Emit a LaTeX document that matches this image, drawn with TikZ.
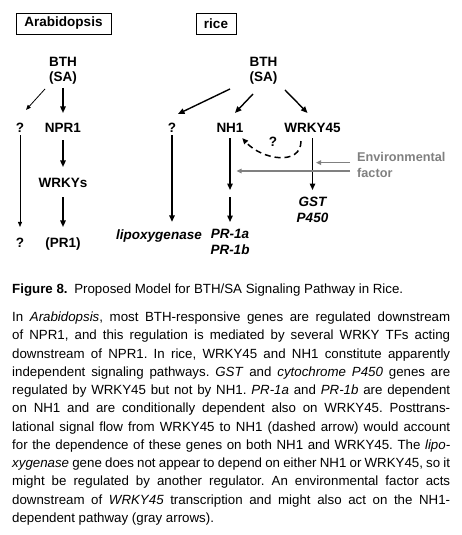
\documentclass[tikz,border=0pt]{standalone}
\usepackage{fontspec}
\setmainfont{Liberation Sans}
\usetikzlibrary{arrows.meta}
\definecolor{envgray}{RGB}{128,128,128}
\frenchspacing
\begin{document}
\begin{tikzpicture}[x=1pt,y=-1pt,
  lbl/.style={font=\fontsize{13.5}{15}\selectfont\bfseries, inner sep=0pt, text height=9.7pt, text depth=0pt},
  multi/.style={inner sep=0pt, align=center, anchor=north},
  boxn/.style={draw, line width=0.8pt, font=\fontsize{13.5}{15}\selectfont\bfseries, inner sep=0pt, minimum height=21pt},
  arr/.style={line width=1.4pt, -{Triangle[length=6.5pt,width=5.5pt]}},
  thinarr/.style={line width=0.8pt, -{Triangle[length=5pt,width=4pt]}},
  garr/.style={draw=envgray, line width=1.2pt, -{Triangle[length=5pt,width=4.5pt]}},
  dasharr/.style={line width=1.5pt, dash pattern=on 6pt off 4pt, -{Triangle[length=6pt,width=5pt]}},
  capl/.style={font=\fontsize{13.3}{16}\selectfont, inner sep=0pt, anchor=base west}]
\useasboundingbox (0,0) rectangle (461,535);

% ---- boxes
\node[boxn, minimum width=95pt] (arabox) at (63.5,23.5) {Arabidopsis};
\node[boxn, minimum width=40pt] (ricebox) at (216,23.5) {rice};

% ---- Arabidopsis
\node[multi, font=\fontsize{13.5}{15}\selectfont\bfseries] (aBTH) at (63,57) {BTH\\(SA)};
\node[lbl] (aq1) at (20,128) {?};
\node[lbl] (npr1) at (63,128) {NPR1};
\node[lbl] (wrkys) at (63,183) {WRKYs};
\node[lbl] (apr1) at (63,243) {(PR1)};
\node[lbl] (aq2) at (20,243) {?};

\draw[arr, shorten <=3.5pt, shorten >=10pt] (aBTH.south) -- (aBTH.south |- npr1.north);
\draw[thinarr] ([shift={(-18,4.5)}]aBTH.south) -- ([shift={(6,-13)}]aq1.north);
\draw[arr, shorten <=7pt, shorten >=11pt] (npr1.south) -- (wrkys.north);
\draw[arr, shorten <=9pt, shorten >=11pt] (wrkys.south) -- (apr1.north);
\draw[thinarr, shorten <=2pt, shorten >=11pt] (aq1.south) -- (aq2.north);

% ---- rice
\node[multi, font=\fontsize{13.5}{15}\selectfont\bfseries] (rBTH) at (263.5,57) {BTH\\(SA)};
\node[lbl] (rq1) at (172,128) {?};
\node[lbl] (nh1) at (230,128) {NH1};
\node[lbl] (wrky45) at (312.5,128) {WRKY45};
\node[lbl, font=\fontsize{13.5}{15}\selectfont\bfseries\itshape, text depth=3pt, anchor=base] (lipox) at (159,239.5) {lipoxygenase};
\node[multi, font=\fontsize{13.5}{16.7}\selectfont\bfseries\itshape] (pr1ab) at (230,228.6) {PR-1a\\PR-1b};
\node[multi, font=\fontsize{13.5}{16}\selectfont\bfseries\itshape] (gst) at (312.5,197.3) {GST\\P450};
\node[inner sep=0pt, align=left, anchor=north west, text=envgray, font=\fontsize{12.7}{15.5}\selectfont\bfseries] (env) at (357,152.5) {Environmental\\factor};
\node[lbl] (dq) at (273,142) {?};
\coordinate (nhmid) at (230,193.5);

\draw[arr] ([shift={(-33.5,4.5)}]rBTH.south) -- ([shift={(6,-9)}]rq1.north);
\draw[arr] ([shift={(-10.5,9.5)}]rBTH.south) -- ([shift={(5,-10)}]nh1.north);
\draw[arr] ([shift={(21.5,5.5)}]rBTH.south) -- ([shift={(-5,-10)}]wrky45.north);
\draw[arr, shorten <=2pt, shorten >=7.8pt] (rq1.south) -- (rq1.south |- lipox.north);
\draw[arr, shorten <=5pt, shorten >=3.5pt] (nh1.south) -- (nhmid);
\draw[arr, shorten <=3.5pt, shorten >=6.6pt] (nhmid) -- (pr1ab.north);
\draw[arr, shorten <=5pt, shorten >=7.3pt] (wrky45.south) -- (gst.north);
\draw[dasharr] ([shift={(-11.5,8)}]wrky45.south) .. controls (301,166) and (262,160) .. ([shift={(-1.5,5)}]nh1.south east);

\coordinate (g1s) at ([shift={(-7,10.1)}]env.north west);
\coordinate (g2s) at ([shift={(-7,18.5)}]env.north west);
\draw[garr, shorten >=3.5pt] (g1s) -- (g1s -| wrky45);
\draw[garr, shorten >=6.5pt] (g2s) -- (g2s -| nh1);

% ---- caption
\node[capl] (title) at (12,293) {\textbf{Figure 8.}\enspace Proposed Model for BTH/SA Signaling Pathway in Rice.};
\node[capl] (cap1) at (12,321.5) {\makebox[438pt][s]{In \textit{Arabidopsis}, most BTH-responsive genes are regulated downstream}};
\node[capl] (cap2) at (12,339.77) {\makebox[438pt][s]{of NPR1, and this regulation is mediated by several WRKY TFs acting}};
\node[capl] (cap3) at (12,358.04) {\makebox[438pt][s]{downstream of NPR1. In rice, WRKY45 and NH1 constitute apparently}};
\node[capl] (cap4) at (12,376.31) {\makebox[438pt][s]{independent signaling pathways. \textit{GST} and \textit{cytochrome P450} genes are}};
\node[capl] (cap5) at (12,394.58) {\makebox[438pt][s]{regulated by WRKY45 but not by NH1. \textit{PR-1a} and \textit{PR-1b} are dependent}};
\node[capl] (cap6) at (12,412.85) {\makebox[438pt][s]{on NH1 and are conditionally dependent also on WRKY45. Posttrans-}};
\node[capl] (cap7) at (12,431.12) {\makebox[438pt][s]{lational signal flow from WRKY45 to NH1 (dashed arrow) would account}};
\node[capl] (cap8) at (12,449.39) {\makebox[438pt][s]{for the dependence of these genes on both NH1 and WRKY45. The \textit{lipo-}}};
\node[capl] (cap9) at (12,467.66) {\makebox[438pt][s]{\textit{xygenase} gene does not appear to depend on either NH1 or WRKY45, so it}};
\node[capl] (cap10) at (12,485.93) {\makebox[438pt][s]{might be regulated by another regulator. An environmental factor acts}};
\node[capl] (cap11) at (12,504.2) {\makebox[438pt][s]{downstream of \textit{WRKY45} transcription and might also act on the NH1-}};
\node[capl] (cap12) at (12,522.47) {dependent pathway (gray arrows).};
\end{tikzpicture}
\end{document}
